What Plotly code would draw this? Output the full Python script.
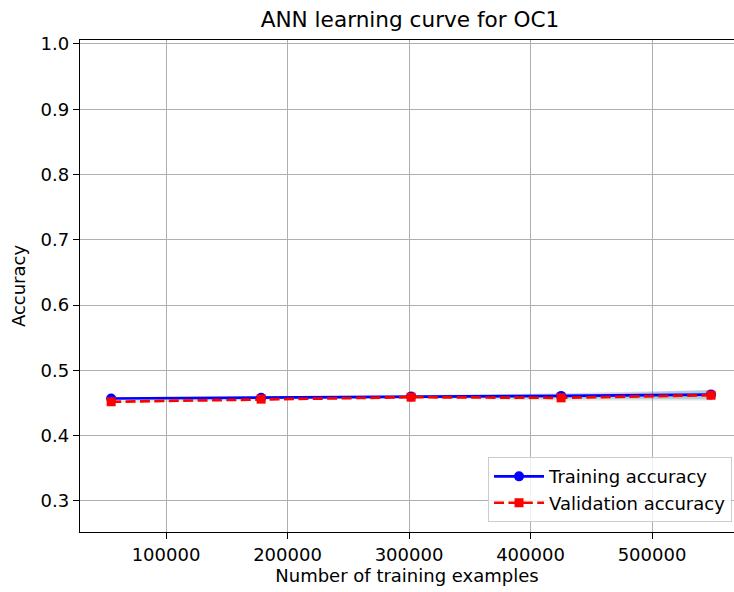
import plotly.graph_objects as go

train_sizes = [54860, 178295, 301730, 425165, 548600]
train_mean = [0.457, 0.458, 0.460, 0.461, 0.463]
train_std = [0.002, 0.0015, 0.002, 0.004, 0.007]
val_mean = [0.452, 0.456, 0.459, 0.458, 0.462]
val_std = [0.002, 0.0015, 0.002, 0.004, 0.008]

x_ticks = [100000, 200000, 300000, 400000, 500000]
y_ticks = [0.3, 0.4, 0.5, 0.6, 0.7, 0.8, 0.9, 1.0]

FONT = "DejaVu Sans"

def band(x, m, s, color):
    upper = [a + b for a, b in zip(m, s)]
    lower = [a - b for a, b in zip(m, s)]
    return go.Scatter(
        x=list(x) + list(x)[::-1],
        y=upper + lower[::-1],
        fill="toself", fillcolor=color, line=dict(width=0),
        mode="lines", showlegend=False, hoverinfo="skip",
    )

fig = go.Figure()
fig.add_trace(band(train_sizes, train_mean, train_std, "rgba(0,0,255,0.15)"))
fig.add_trace(band(train_sizes, val_mean, val_std, "rgba(0,128,0,0.15)"))
fig.add_trace(go.Scatter(
    x=train_sizes, y=train_mean, name="Training accuracy",
    mode="lines+markers",
    line=dict(color="#0000ff", width=2.7),
    marker=dict(symbol="circle", size=10, color="#0000ff"),
))
fig.add_trace(go.Scatter(
    x=train_sizes, y=val_mean, name="Validation accuracy",
    mode="lines+markers",
    line=dict(color="#ff0000", width=2.7, dash="10px,4.4px"),
    marker=dict(symbol="square", size=9, color="#ff0000"),
))

axis_common = dict(
    showgrid=True, gridcolor="#b0b0b0", gridwidth=1.4,
    showline=True, linecolor="black", linewidth=1.4,
    ticks="outside", ticklen=6, tickwidth=1.4, tickcolor="black",
    tickfont=dict(family=FONT, size=18, color="black"),
    zeroline=False,
)

fig.update_layout(
    width=734, height=592,
    margin=dict(l=80, r=0, t=40, b=60),
    paper_bgcolor="white", plot_bgcolor="white",
    font=dict(family=FONT, size=18, color="black"),
    title=dict(text="ANN learning curve for OC1", x=410 / 734, xanchor="center",
               y=1 - 19 / 592, yanchor="middle",
               font=dict(family=FONT, size=21.6, color="black")),
    xaxis=dict(
        **axis_common, mirror=True,
        range=[29218, 567490],
        tickvals=x_ticks, ticktext=[str(v) for v in x_ticks],
        title=dict(text="Number of training examples", standoff=4,
                   font=dict(family=FONT, size=18, color="black")),
    ),
    yaxis=dict(
        **axis_common, mirror=False,
        range=[0.2525, 1.0061],
        tickvals=y_ticks, ticktext=[f"{v:.1f}" for v in y_ticks],
        title=dict(text="Accuracy", standoff=10,
                   font=dict(family=FONT, size=18, color="black")),
    ),
    legend=dict(
        x=0.997, y=0.02, xanchor="right", yanchor="bottom",
        bgcolor="rgba(255,255,255,0.8)", bordercolor="#cccccc", borderwidth=1,
        font=dict(family=FONT, size=18, color="black"),
        tracegroupgap=0, itemwidth=50,
    ),
    showlegend=True,
)

fig.write_html("out.html")
